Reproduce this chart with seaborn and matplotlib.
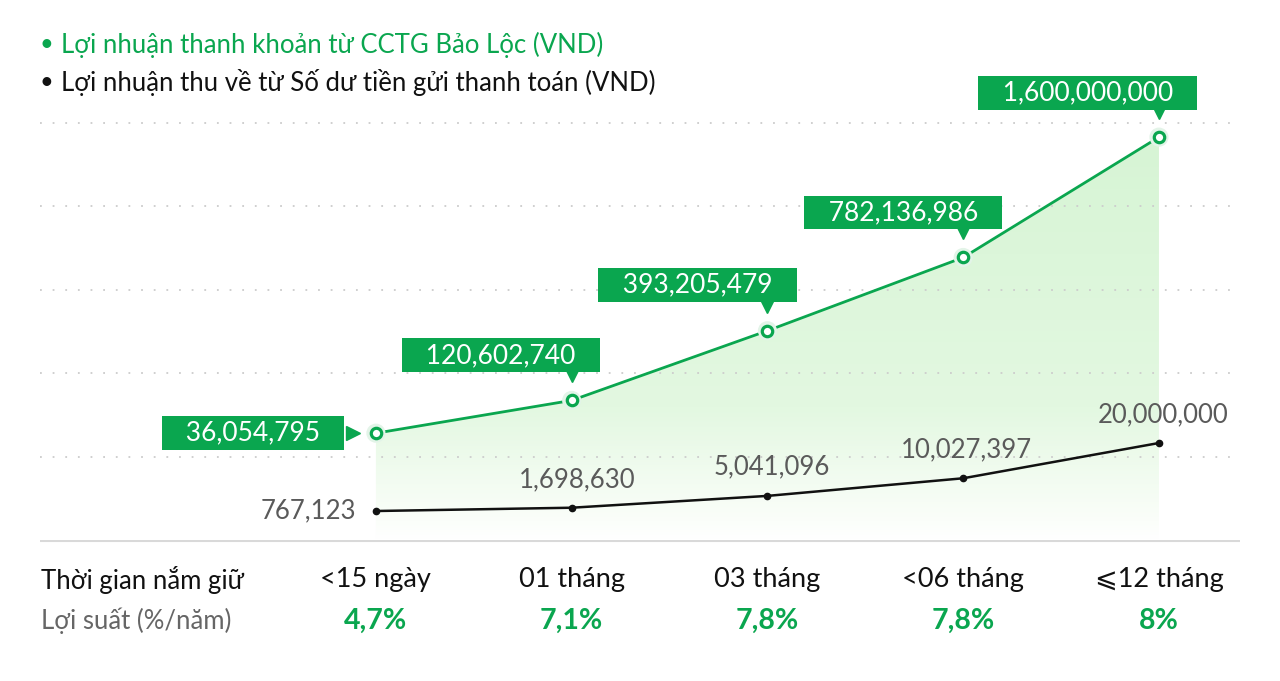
import matplotlib.pyplot as plt
import numpy as np
import seaborn as sns
from matplotlib.colors import LinearSegmentedColormap
from matplotlib.transforms import offset_copy, blended_transform_factory

periods = ['<15 ngày', '01 tháng', '03 tháng', '<06 tháng', '⩽12 tháng']
rates = ['4,7%', '7,1%', '7,8%', '7,8%', '8%']
cctg_profit = [36054795, 120602740, 393205479, 782136986, 1600000000]
deposit_profit = [767123, 1698630, 5041096, 10027397, 20000000]

legend_labels = ['Lợi nhuận thanh khoản từ CCTG Bảo Lộc (VND)',
                 'Lợi nhuận thu về từ Số dư tiền gửi thanh toán (VND)']
row_labels = ['Thời gian nắm giữ', 'Lợi suất (%/năm)']

GREEN = '#0aa64f'
DARK = '#111111'
GREY = '#5a5a5a'

sns.set_theme(style='white')
plt.rcParams['font.family'] = ['Lato', 'DejaVu Sans']

fig = plt.figure(figsize=(12.8, 6.81), dpi=100)
W, H = 1280, 681
xlim = (-1.716, 4.414)
xs = np.arange(len(periods))

# base axes: dotted grid + gradient fill
ax = fig.add_axes([40 / W, 141 / H, 1200 / W, 440 / H])
ax.set_xlim(xlim)
ax.set_ylim(0, 1)
ax.set_yticks(np.arange(1, 6) * 0.1895)
ax.set_xticks([])
ax.grid(axis='y', color='#cccccc', linestyle=(0, (1, 6)), linewidth=1.3)
sns.despine(ax=ax, left=True, bottom=True)


# green series on a power scale
def fwd(v):
    return np.sign(v) * np.abs(v) ** 0.65


def inv(t):
    return np.sign(t) * np.abs(t) ** (1 / 0.65)


gax = ax.twinx()
gax.set_yscale('function', functions=(fwd, inv))
g_bottom, g_top = -184e6, 1891e6
gax.set_ylim(g_bottom, g_top)
gax.set_axis_off()

poly = gax.fill_between(xs, cctg_profit, g_bottom, facecolor='none', edgecolor='none')
cmap = LinearSegmentedColormap.from_list(
    'fade', [(0, '#ffffff'), (0.04, '#fbfefa'), (0.3, '#e3f8e1'), (1, '#d5f4d3')])
grad = np.linspace(0, 1, 256).reshape(-1, 1)
im = ax.imshow(grad, extent=[xlim[0], xlim[1], 0, 1], origin='lower', aspect='auto',
               cmap=cmap, zorder=0)
im.set_clip_path(poly.get_paths()[0], gax.transData)
ax.set_xlim(xlim)
ax.set_ylim(0, 1)

sns.lineplot(x=xs, y=cctg_profit, ax=gax, color=GREEN, linewidth=2, zorder=3)
gax.scatter(xs, cctg_profit, s=190, color='#e3f4e8', edgecolor='none', zorder=4)
gax.plot(xs, cctg_profit, 'o', ms=7.5, mfc='white', mec=GREEN, mew=2.3, zorder=5)

# black series on its own linear scale
bax = ax.twinx()
bax.set_ylim(-7.43e6, 117.0e6)
bax.set_axis_off()
sns.lineplot(x=xs, y=deposit_profit, ax=bax, color=DARK, linewidth=1.8, zorder=3)
bax.plot(xs, deposit_profit, 'o', ms=4.5, color=DARK, zorder=4)

ax.tick_params(axis='both', which='both', length=0, labelleft=False, labelright=False,
               labelbottom=False)

# green value boxes
pad = '\u2003'
box_offsets = [(-123, 0), (-71, 45), (-70, 46), (-60, 45), (-71, 44)]
for i, (x, v) in enumerate(zip(xs, cctg_profit)):
    dx, dy = box_offsets[i]
    gax.annotate(pad + f'{v:,}' + pad, xy=(x, v), xytext=(dx, dy),
                 textcoords='offset pixels', ha='center', va='center',
                 color='white', fontsize=19, zorder=6,
                 bbox=dict(boxstyle='square,pad=0.17', fc=GREEN, ec='none'))
    if i == 0:
        tr = offset_copy(gax.transData, fig=fig, x=-23, y=0, units='dots')
        gax.plot(x, v, marker='>', ms=10, color=GREEN, transform=tr, zorder=6)
    else:
        tr = offset_copy(gax.transData, fig=fig, x=0, y=25, units='dots')
        gax.plot(x, v, marker='v', ms=10, color=GREEN, transform=tr, zorder=6)

# grey value labels
label_offsets = [(-20, 0), (5, 28), (4, 29), (3, 28), (4, 28)]
for i, (x, v) in enumerate(zip(xs, deposit_profit)):
    dx, dy = label_offsets[i]
    bax.annotate(f'{v:,}', xy=(x, v), xytext=(dx, dy), textcoords='offset pixels',
                 ha='right' if i == 0 else 'center', va='center',
                 color=GREY, fontsize=18.5, zorder=6)

# legend
for j, (lab, col) in enumerate(zip(legend_labels, [GREEN, DARK])):
    y = 1 - (45 + 37 * j) / H
    fig.text(46 / W, y, '•', color=col, fontsize=17, ha='center', va='center')
    fig.text(61 / W, y, lab, color=col, fontsize=18.5, ha='left', va='center')

# table below the chart
tab = fig.add_axes([40 / W, 0, 1200 / W, 141 / H])
tab.set_xlim(xlim)
tab.set_ylim(0, 141)
tab.set_axis_off()
tab.axhline(140, color='#d9d9d9', linewidth=1.5)
left = blended_transform_factory(tab.transAxes, tab.transData)
tab.text(0.001, 101, row_labels[0], transform=left, ha='left', va='center',
         color=DARK, fontsize=18.5)
tab.text(0.001, 60, row_labels[1], transform=left, ha='left', va='center',
         color='#666666', fontsize=18.5)
for x, p, r in zip(xs, periods, rates):
    tab.text(x, 101, p, ha='center', va='center', color=DARK, fontsize=19.5)
    tab.text(x, 60, r, ha='center', va='center', color=GREEN, fontsize=20.5,
             fontweight='bold')

fig.savefig('out.png', dpi=100)
